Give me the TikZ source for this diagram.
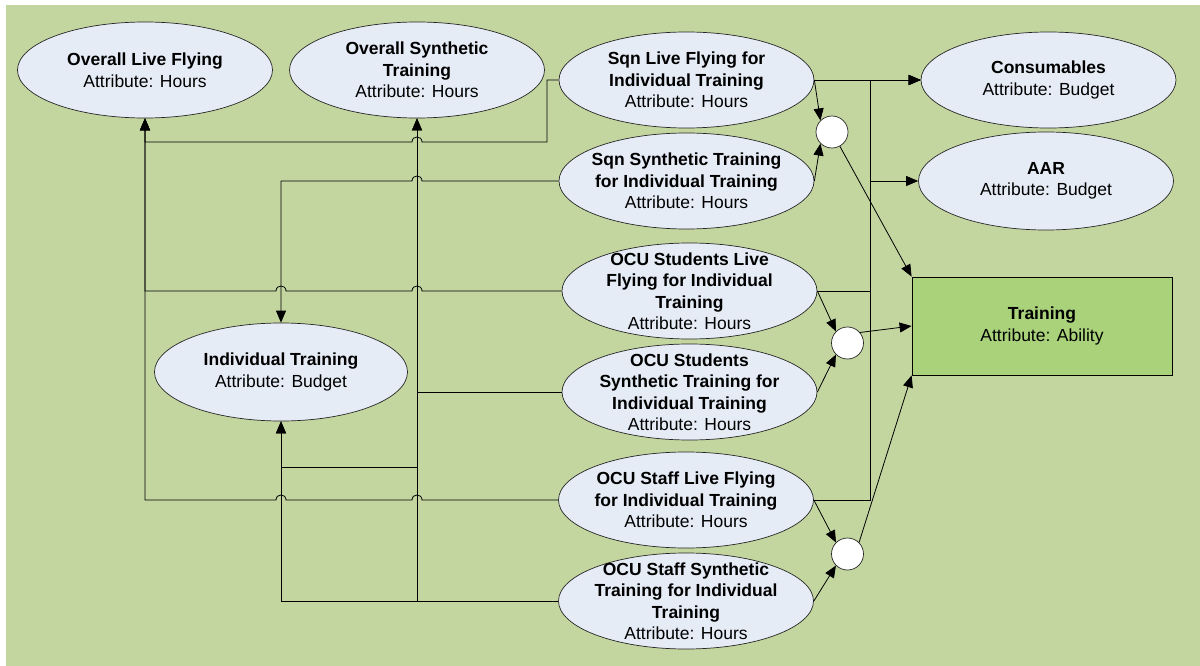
\documentclass[tikz,border=0pt]{standalone}
\usepackage{fontspec}
\setmainfont{Liberation Sans}
\usetikzlibrary{shapes.geometric,arrows.meta}
\definecolor{bgGreen}{HTML}{C4D6A0}
\definecolor{entFill}{HTML}{E6ECF6}
\definecolor{goalFill}{HTML}{A9D27A}
\begin{document}
\begin{tikzpicture}[x=1pt,y=-1pt,
  ent/.style={ellipse,draw=black!85,line width=0.7pt,fill=entFill,
    minimum width=255pt,minimum height=96pt,inner sep=0pt},
  goal/.style={rectangle,draw=black,line width=0.8pt,fill=goalFill,
    minimum width=260pt,minimum height=98pt,inner sep=0pt},
  mergept/.style={circle,draw=black!85,line width=0.7pt,fill=white,
    minimum size=32pt,inner sep=0pt},
  txt/.style={align=center,inner sep=0pt,
    font=\fontsize{17.5}{21.5}\selectfont},
  conn/.style={draw=black,line width=0.8pt},
  arr/.style={conn,-{Triangle[length=12pt,width=10pt]}},
]
% canvas
\useasboundingbox (0,0) rectangle (1200,666);
\fill[white] (0,0) rectangle (1200,666);
\fill[bgGreen] (5.5,5) rectangle (1200,666);

% entities
\node[ent] (olf)   at (145,70)    {};
\node[ent] (ost)   at (417,70)    {};
\node[ent] (sqnl)  at (686.5,80)  {};
\node[ent] (sqns)  at (686.5,181) {};
\node[ent] (ocusl) at (689.5,291) {};
\node[ent] (ocuss) at (689.5,392) {};
\node[ent] (ocufl) at (686,500)   {};
\node[ent] (ocufs) at (686,601)   {};
\node[ent,minimum width=253pt,minimum height=98pt] (indiv) at (281,372) {};
\node[ent] (cons)  at (1048.5,80) {};
\node[ent,minimum height=98pt] (aar) at (1046,181) {};
\node[goal] (train) at (1042,326) {};

% merge points
\node[mergept] (c1) at (832,132) {};
\node[mergept] (c2) at (847.5,343) {};
\node[mergept] (c3) at (847.5,554) {};

% left-hand feeds (horizontal runs hop over the vertical buses)
\draw[arr] (sqnl.west) -- (547,80) -- (547,142) -- (422,142)
  .. controls (422,135.3) and (412,135.3) .. (412,142) -- (145,142) -- (olf.south);
\draw[arr] (sqns.west) -- (422,181)
  .. controls (422,174.3) and (412,174.3) .. (412,181) -- (281,181) -- (indiv.north);
\draw[arr] (ocusl.west) -- (422,291)
  .. controls (422,284.3) and (412,284.3) .. (412,291) -- (286,291)
  .. controls (286,284.3) and (276,284.3) .. (276,291) -- (145,291) -- (olf.south);
\draw[arr] (ocufl.west) -- (422,500)
  .. controls (422,493.3) and (412,493.3) .. (412,500) -- (286,500)
  .. controls (286,493.3) and (276,493.3) .. (276,500) -- (145,500) -- (olf.south);
\draw[arr] (ocuss.west) -- (417,392) -- (ost.south);
\draw[arr] (ocuss.west) -- (417,392) -- (417,467) -- (281,467) -- (indiv.south);
\draw[arr] (ocufs.west) -- (417,601) -- (ost.south);
\draw[arr] (ocufs.west) -- (281,601) -- (indiv.south);

% right-hand feeds
\draw[arr] (sqnl.east) -- (cons.west);
\draw[arr] (sqnl.east) -- (870,80) -- (870,181) -- (aar.west);
\draw[arr] (ocusl.east) -- (870,291) -- (870,80) -- (cons.west);
\draw[arr] (ocufl.east) -- (870,500) -- (870,80) -- (cons.west);

% combinations into training
\draw[arr] (sqnl.east) -- (c1.135);
\draw[arr] (sqns.east) -- (c1.225);
\draw[arr] (c1) -- (train.north west);
\draw[arr] (ocusl.east) -- (c2.135);
\draw[arr] (ocuss.east) -- (c2.225);
\draw[arr] (c2.40) -- (train.west);
\draw[arr] (ocufl.east) -- (c3.135);
\draw[arr] (ocufs.east) -- (c3.225);
\draw[arr] (c3.45) -- (train.south west);

% labels
\node[txt] (olf-t)   at (olf)   {\textbf{Overall Live Flying}\\Attribute: Hours};
\node[txt] (ost-t)   at (ost)   {\textbf{Overall Synthetic}\\\textbf{Training}\\Attribute: Hours};
\node[txt] (sqnl-t)  at (sqnl)  {\textbf{Sqn Live Flying for}\\\textbf{Individual Training}\\Attribute: Hours};
\node[txt] (sqns-t)  at (sqns)  {\textbf{Sqn Synthetic Training}\\\textbf{for Individual Training}\\Attribute: Hours};
\node[txt] (ocusl-t) at (ocusl) {\textbf{OCU Students Live}\\\textbf{Flying for Individual}\\\textbf{Training}\\Attribute: Hours};
\node[txt] (ocuss-t) at (ocuss) {\textbf{OCU Students}\\\textbf{Synthetic Training for}\\\textbf{Individual Training}\\Attribute: Hours};
\node[txt] (ocufl-t) at (ocufl) {\textbf{OCU Staff Live Flying}\\\textbf{for Individual Training}\\Attribute: Hours};
\node[txt] (ocufs-t) at (ocufs) {\textbf{OCU Staff Synthetic}\\\textbf{Training for Individual}\\\textbf{Training}\\Attribute: Hours};
\node[txt] (indiv-t) at (indiv) {\textbf{Individual Training}\\Attribute: Budget};
\node[txt] (cons-t)  at (cons)  {\textbf{Consumables}\\Attribute: Budget};
\node[txt] (aar-t)   at (aar)   {\textbf{AAR}\\Attribute: Budget};
\node[txt] (train-t) at (train) {\textbf{Training}\\Attribute: Ability};
\end{tikzpicture}
\end{document}
